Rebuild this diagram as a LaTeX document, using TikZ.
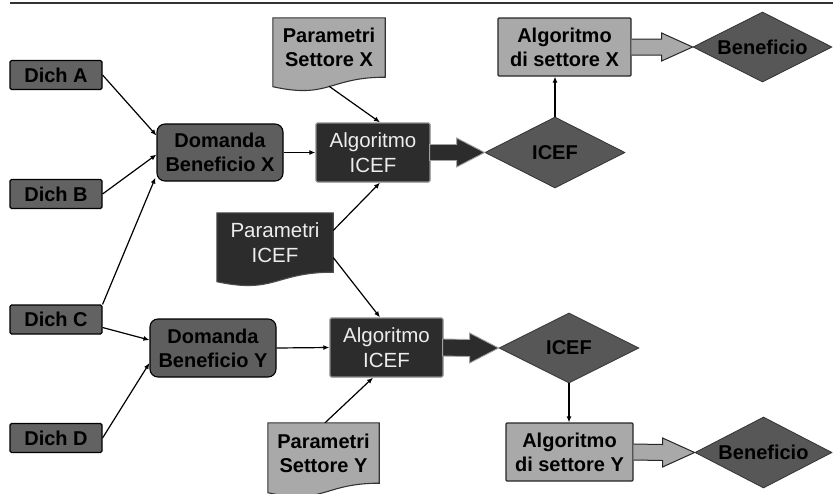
\documentclass[tikz,border=0pt]{standalone}
\usepackage{fontspec}
\setmainfont{Liberation Sans}
\usetikzlibrary{shapes.geometric,calc,arrows.meta}
\pgfdeclarelayer{background}
\pgfsetlayers{background,main}
\definecolor{dichgray}{HTML}{626262}
\definecolor{domgray}{HTML}{5E5E5E}
\definecolor{diagray}{HTML}{575757}
\definecolor{darkbox}{HTML}{2C2C2C}
\definecolor{darkedge}{HTML}{8A8A8A}
\definecolor{lightbox}{HTML}{A9A9A9}
\definecolor{whitetext}{HTML}{EDEDED}
\begin{document}
\begin{tikzpicture}[x=1pt,y=-1pt,
  base/.style={inner sep=0pt, align=center, font=\fontsize{20}{24}\selectfont\bfseries},
  dich/.style={base, draw=black, line width=1.1pt, fill=dichgray, rounded corners=1.5pt, minimum width=92pt, minimum height=29pt},
  domanda/.style={base, draw=black, line width=1.1pt, fill=domgray, rounded corners=8pt, minimum width=126pt, minimum height=57pt},
  algicef/.style={base, font=\fontsize{20.5}{25}\selectfont, text=whitetext, draw=darkedge, line width=1.3pt, fill=darkbox, rounded corners=1.5pt, minimum width=114pt, minimum height=59pt},
  algsett/.style={base, draw=black!85, line width=1.1pt, fill=lightbox, rounded corners=1pt, minimum height=58pt},
  rombo/.style={base, diamond, aspect=2, draw=black!80, line width=0.8pt, fill=diagray},
  docnode/.style={base, minimum height=59pt},
  docdark/.style={fill=darkbox, draw=black!70, line width=1.1pt},
  doclight/.style={fill=lightbox, draw=black!80, line width=1.1pt},
  conn/.style={draw=black, line width=1.2pt, -{Latex[length=6pt,width=5pt]}},
  fatarrow/.style={fill=darkbox, draw=darkedge!80, line width=0.9pt},
  lightarrow/.style={fill=lightbox, draw=black!85, line width=1pt},
  rule/.style={draw=black!80, line width=1.4pt}
]
\useasboundingbox (0,0) rectangle (833,493);

% top rule
\coordinate (r1) at (10,3);
\coordinate (r2) at (833,3);
\draw[rule] (r1) -- (r2);

% Dich boxes
\node[dich] (da) at (56,75) {Dich A};
\node[dich] (db) at (56,194) {Dich B};
\node[dich] (dc) at (56,319.5) {Dich C};
\node[dich] (dd) at (56,438) {Dich D};

% Domanda
\node[domanda] (dx) at (220,152.5) {Domanda\\Beneficio X};
\node[domanda, minimum height=58pt] (dy) at (213,348) {Domanda\\Beneficio Y};

% Algoritmo ICEF
\node[algicef] (a1) at (373,152.5) {Algoritmo\\ICEF};
\node[algicef, minimum width=113pt] (a2) at (386.5,347.5) {Algoritmo\\ICEF};

% documents
\node[docnode, minimum width=112pt] (psx) at (329,47.5) {Parametri\\Settore X};
\node[docnode, minimum width=116pt, font=\fontsize{20.5}{25}\selectfont, text=whitetext] (pic) at (275,242.5) {Parametri\\ICEF};
\node[docnode, minimum width=111pt, minimum height=60pt] (psy) at (323.5,453) {Parametri\\Settore Y};

\begin{pgfonlayer}{background}
  \path[doclight] (psx.north west) -- (psx.north east) -- (psx.south east)
     .. controls (psx.south) and ($(psx.south)+(0,22)$) .. ($(psx.south west)+(0,9.5)$) -- cycle;
  \path[docdark] (pic.north west) -- (pic.north east) -- (pic.south east)
     .. controls (pic.south) and ($(pic.south)+(0,22)$) .. ($(pic.south west)+(0,9.5)$) -- cycle;
  \path[doclight] (psy.north west) -- (psy.north east) -- (psy.south east)
     .. controls (psy.south) and ($(psy.south)+(0,22)$) .. ($(psy.south west)+(0,9.5)$) -- cycle;
\end{pgfonlayer}

% diamonds
\node[rombo, minimum width=140pt, minimum height=71pt] (i1) at (555,152.5) {ICEF};
\node[rombo, minimum width=140pt, minimum height=70pt] (i2) at (569,348) {ICEF};
\node[rombo, minimum width=139pt, minimum height=70pt] (b1) at (762.5,47) {Beneficio};
\node[rombo, minimum width=137pt, minimum height=71pt] (b2) at (763.5,452.5) {Beneficio};

% Algoritmo di settore
\node[algsett, minimum width=133pt] (sx) at (564.5,47) {Algoritmo\\di settore X};
\node[algsett, minimum width=127pt] (sy) at (569.5,452) {Algoritmo\\di settore Y};

% fat arrows
\path[fatarrow] ($(a1.east)+(-1,-8)$) -- ($(i1.west)+(-28,-8)$) -- ($(i1.west)+(-28,-14.5)$) -- (i1.west)
   -- ($(i1.west)+(-28,14.5)$) -- ($(i1.west)+(-28,8)$) -- ($(a1.east)+(-1,8)$) -- cycle;
\path[fatarrow] ($(a2.east)+(-1,-8.5)$) -- ($(i2.west)+(-29,-8.5)$) -- ($(i2.west)+(-29,-15)$) -- (i2.west)
   -- ($(i2.west)+(-29,15)$) -- ($(i2.west)+(-29,8.5)$) -- ($(a2.east)+(-1,8.5)$) -- cycle;

% light arrows
\path[lightarrow] ($(sx.east)+(0,-8)$) -- ($(b1.west)+(-31,-8)$) -- ($(b1.west)+(-31,-14)$) -- (b1.west)
   -- ($(b1.west)+(-31,14)$) -- ($(b1.west)+(-31,8)$) -- ($(sx.east)+(0,8)$);
\path[lightarrow] ($(sy.east)+(0,-8)$) -- ($(b2.west)+(-32,-8)$) -- ($(b2.west)+(-32,-14.5)$) -- (b2.west)
   -- ($(b2.west)+(-32,14.5)$) -- ($(b2.west)+(-32,8)$) -- ($(sy.east)+(0,8)$);

% connectors
\draw[conn] (da.east) -- ([yshift=17pt]dx.west);
\draw[conn] (db.east) -- ([yshift=-2pt]dx.west);
\draw[conn] (dc.north east) -- ([yshift=4pt,xshift=-1pt]dx.south west);
\draw[conn] ([yshift=-8pt]dc.east) -- ([yshift=8pt]dy.west);
\draw[conn] (dd.east) -- ([yshift=-15pt]dy.west);
\draw[conn] (dx.east) -- (a1.west);
\draw[conn] (dy.east) -- (a2.west);
\draw[conn] ([yshift=-9pt]psx.south) -- ([xshift=7pt]a1.north);
\draw[conn] ([yshift=12pt]pic.east) -- ([xshift=7pt]a1.south);
\draw[conn] ([yshift=-15pt]pic.east) -- ([xshift=-6.5pt]a2.north);
\draw[conn] ([xshift=1.5pt]psy.north) -- ([xshift=-13.5pt]a2.south);
\draw[conn] (i1.north) -- (i1.north |- sx.south);
\draw[conn] (i2.south) -- (i2.south |- sy.north);
\end{tikzpicture}
\end{document}
